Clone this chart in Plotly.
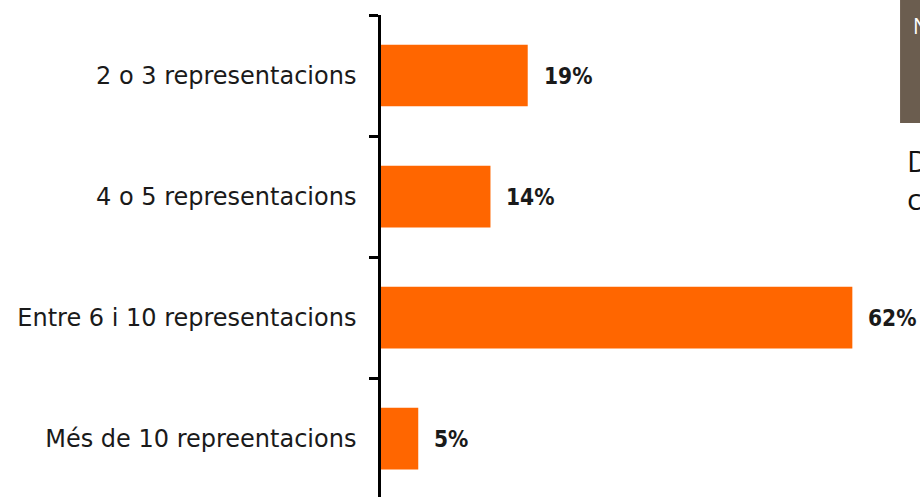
import plotly.graph_objects as go

categories = ["2 o 3 representacions", "4 o 5 representacions",
              "Entre 6 i 10 representacions", "Més de 10 repreentacions"]
values = [19.3, 14.4, 62.0, 4.9]
value_labels = ["19%", "14%", "62%", "5%"]

BAR_COLOR = "#FF6600"
TEXT_COLOR = "#1a1a1a"
FONT = "DejaVu Sans"
PCT_FONT = "Liberation Sans Narrow, DejaVu Sans Condensed, DejaVu Sans"

fig = go.Figure(go.Bar(
    x=values, y=categories, orientation="h",
    marker=dict(color=BAR_COLOR, line=dict(width=0)),
    hoverinfo="skip",
))

for v, c, lab in zip(values, categories, value_labels):
    fig.add_annotation(x=v, y=c, text=f"<b>{lab}</b>", showarrow=False,
                       xanchor="left", yanchor="middle", xshift=14,
                       font=dict(family=PCT_FONT, size=22.5, color=TEXT_COLOR))

# decorative fragments at top right (cut-off neighbouring content)
fig.add_shape(type="rect", xref="paper", yref="paper",
              x0=0.963, x1=1.05, y0=0.776, y1=1.05,
              fillcolor="#6B5D4F", line=dict(width=0), layer="above")
fig.add_annotation(xref="paper", yref="paper", x=0.983, y=0.977, text="N",
                   showarrow=False, xanchor="left", yanchor="middle",
                   font=dict(family="Open Sans", size=21, color="white"))
fig.add_annotation(xref="paper", yref="paper", x=0.9777, y=0.699, text="D",
                   showarrow=False, xanchor="left", yanchor="middle", xshift=-3,
                   font=dict(family="Open Sans", size=30, color="#111"))
fig.add_annotation(xref="paper", yref="paper", x=0.9777, y=0.620, text="c",
                   showarrow=False, xanchor="left", yanchor="middle", xshift=-3,
                   font=dict(family="Open Sans", size=30, color="#111"))

fig.update_layout(
    width=920, height=497,
    margin=dict(l=381, r=0, t=15, b=0),
    paper_bgcolor="white", plot_bgcolor="white",
    bargap=0.49, showlegend=False,
    xaxis=dict(range=[0, 70.9], visible=False, fixedrange=True),
    yaxis=dict(
        categoryorder="array", categoryarray=categories,
        range=[3.483, -0.5],
        showline=True, linecolor="black", linewidth=2.5,
        ticks="outside", tickson="boundaries", ticklen=9,
        tickwidth=2.5, tickcolor="black",
        showgrid=False, zeroline=False,
        ticklabelstandoff=17,
        tickfont=dict(family=FONT, size=24, color=TEXT_COLOR),
        fixedrange=True,
    ),
)

fig.write_html(
    "out.html",
    config={"displayModeBar": False},
    post_script="document.body.style.margin='0';document.body.style.overflow='hidden';",
)
